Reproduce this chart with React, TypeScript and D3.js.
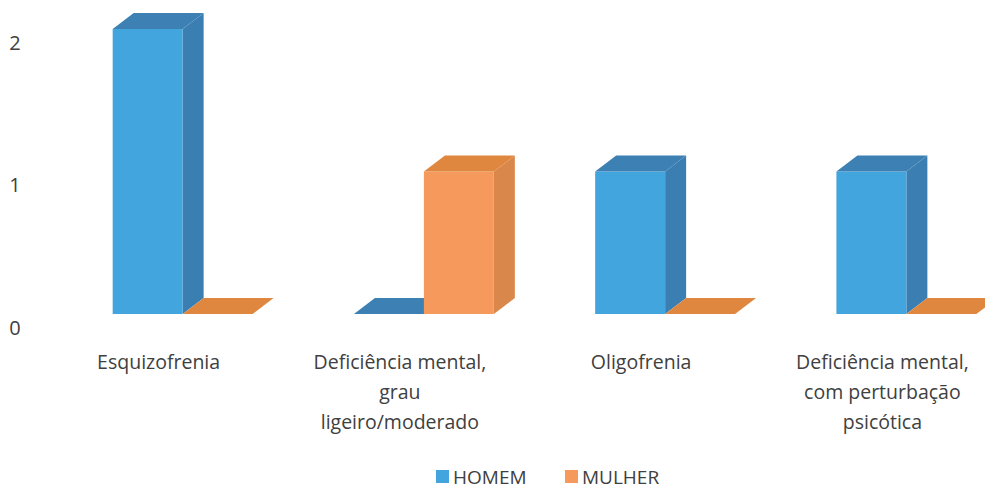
import React from "react";
import * as d3 from "d3";

const categories = [
  "Esquizofrenia",
  "Deficiência mental, grau ligeiro/moderado",
  "Oligofrenia",
  "Deficiência mental, com perturbação psicótica",
];
const categoryLines = [
  ["Esquizofrenia"],
  ["Deficiência mental,", "grau", "ligeiro/moderado"],
  ["Oligofrenia"],
  ["Deficiência mental,", "com perturbação", "psicótica"],
];
const seriesNames = ["HOMEM", "MULHER"];
const homem = [2, 0, 1, 1];
const mulher = [0, 1, 0, 0];
const yTicks = [0, 1, 2];

const W = 985;
const H = 490;
const FONT = "'Open Sans', Lato, sans-serif";

const colors = {
  HOMEM: { front: "#42a5de", side: "#3b7eb2", top: "#3d80b4" },
  MULHER: { front: "#f59a5c", side: "#d9874a", top: "#e0873f" },
};

const DX = 21;
const DY = -16;

export default function App() {
  const x = d3
    .scaleBand<string>()
    .domain(categories)
    .range([62, 1027])
    .paddingInner(0.42)
    .paddingOuter(0.21);
  const sub = d3
    .scaleBand<string>()
    .domain(seriesNames)
    .range([0, x.bandwidth()])
    .padding(0);
  const y = d3.scaleLinear().domain([0, 2]).range([314, 29]);

  const series = [
    { name: "HOMEM", values: homem },
    { name: "MULHER", values: mulher },
  ];

  const bars: JSX.Element[] = [];
  categories.forEach((c, i) => {
    series.forEach((s) => {
      const col = colors[s.name as keyof typeof colors];
      const x0 = (x(c) as number) + (sub(s.name) as number);
      const x1 = x0 + sub.bandwidth();
      const yt = y(s.values[i]);
      const yb = y(0);
      const key = `${s.name}-${i}`;
      const top = `M${x0},${yt} L${x1},${yt} L${x1 + DX},${yt + DY} L${x0 + DX},${yt + DY} Z`;
      const side = `M${x1},${yt} L${x1 + DX},${yt + DY} L${x1 + DX},${yb + DY} L${x1},${yb} Z`;
      bars.push(
        <g key={key}>
          {s.values[i] > 0 && <path d={side} fill={col.side} />}
          {s.values[i] > 0 && (
            <rect x={x0} y={yt} width={x1 - x0} height={yb - yt} fill={col.front} />
          )}
          <path d={top} fill={col.top} />
        </g>
      );
    });
  });

  return (
    <svg width={W} height={H} style={{ display: "block", position: "absolute", left: 0, top: 0 }}>
      <rect width={W} height={H} fill="#ffffff" />
      {yTicks.map((t) => (
        <text
          key={t}
          x={15}
          y={y(t) + 13}
          fontFamily={FONT}
          fontSize={20}
          fill="#404040"
          textAnchor="middle"
          dominantBaseline="central"
        >
          {t}
        </text>
      ))}
      {bars}
      {categories.map((c, i) => {
        const cx = (x(c) as number) + x.bandwidth() / 2 - 24;
        return (
          <text
            key={c}
            fontFamily={FONT}
            fontSize={19.5}
            fill="#404040"
            textAnchor="middle"
          >
            {categoryLines[i].map((l, j) => (
              <tspan key={j} x={cx} y={369 + j * 30}>
                {l}
              </tspan>
            ))}
          </text>
        );
      })}
      <g>
        <rect x={436} y={470} width={13} height={13} fill={colors.HOMEM.front} />
        <text x={453} y={477} fontFamily={FONT} fontSize={19} fill="#404040" dominantBaseline="central">
          {seriesNames[0]}
        </text>
        <rect x={565} y={470} width={13} height={13} fill={colors.MULHER.front} />
        <text x={582} y={477} fontFamily={FONT} fontSize={19} fill="#404040" dominantBaseline="central">
          {seriesNames[1]}
        </text>
      </g>
    </svg>
  );
}
